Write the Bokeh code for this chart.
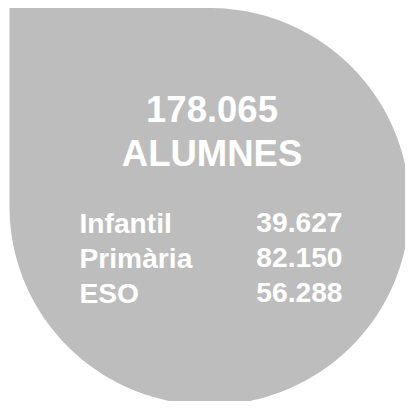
import numpy as np
from bokeh.plotting import figure
from bokeh.models import Range1d, ColumnDataSource
from bokeh.core.properties import value
from bokeh.embed import file_html
from bokeh.resources import INLINE

# ---- data ----
levels = ["Infantil", "Primària", "ESO"]
students = [39627, 82150, 56288]
total = 178065
total_label = "ALUMNES"

def fmt(n):
    return f"{n:,}".replace(",", ".")

W, H = 405, 401
# plot coordinates = picture pixels (origin top-left, y downwards)
p = figure(width=W, height=H, output_backend="svg", toolbar_location=None,
           x_range=Range1d(0, W), y_range=Range1d(H, 0),
           min_border=0, outline_line_color=None, background_fill_color="white",
           border_fill_color="white")
p.axis.visible = False
p.grid.visible = False

# teardrop shape: square top-left corner, round elsewhere
left, top = 9, 7.5
rx, ry = 200, 198.5
cx, cy = left + rx, top + ry
t = np.linspace(-np.pi / 2, np.pi, 240)
xs = np.concatenate([[left], cx + rx * np.cos(t), [left]])
ys = np.concatenate([[top], cy + ry * np.sin(t), [top]])
p.patch(xs, ys, fill_color="#bdbdbd", line_color=None)

font = value("Liberation Sans")
big = "36.5px"
small = "28.2px"
p.text(x=[211.5], y=[108.5], text=[fmt(total)], text_font=font, text_font_size=big,
       text_font_style="bold", text_color="white", text_align="center",
       text_baseline="middle")
p.text(x=[211.5], y=[153], text=[total_label], text_font=font, text_font_size=big,
       text_font_style="bold", text_color="white", text_align="center",
       text_baseline="middle")

row_y = [222 + 35 * i for i in range(len(levels))]
src = ColumnDataSource(dict(y=row_y, lab=levels, val=[fmt(v) for v in students],
                            xl=[79] * len(levels), xr=[342] * len(levels)))
p.text(x="xl", y="y", text="lab", source=src, text_font=font, text_font_size=small,
       text_font_style="bold", text_color="white", text_align="left",
       text_baseline="middle")
p.text(x="xr", y="y", text="val", source=src, text_font=font, text_font_size=small,
       text_font_style="bold", text_color="white", text_align="right",
       text_baseline="middle")

open("out.html", "w").write(file_html(p, INLINE))
